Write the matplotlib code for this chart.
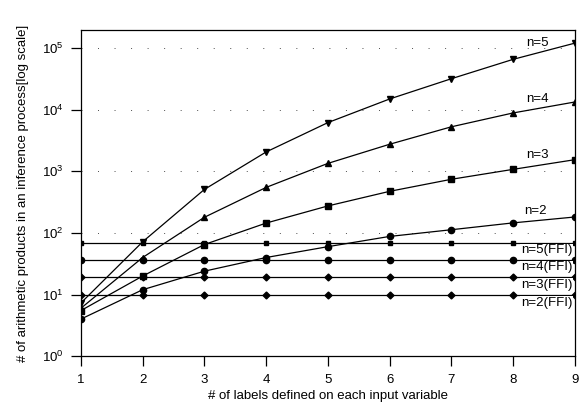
import matplotlib
matplotlib.use("Agg")
import matplotlib.pyplot as plt

plt.rcParams['font.family'] = ['Liberation Sans', 'DejaVu Sans']

labels_per_var = [1, 2, 3, 4, 5, 6, 7, 8, 9]

n5 = [7.3, 72, 510, 2070, 6200, 15000, 32000, 66000, 121000]
n4 = [6.0, 40, 180, 550, 1350, 2760, 5300, 8900, 13400]
n3 = [5.5, 20, 65, 145, 275, 475, 745, 1080, 1550]
n2 = [4.0, 12, 24, 40, 60, 88, 113, 146, 182]

n5_ffi = [70] * 9
n4_ffi = [36] * 9
n3_ffi = [19] * 9
n2_ffi = [10] * 9

fig = plt.figure(figsize=(5.82, 4.08), dpi=100)
ax = fig.add_axes([0.139, 0.127, 0.849, 0.799])

ax.set_yscale('log')
ax.set_xlim(1, 9)
ax.set_ylim(1, 1.96e5)

for yv in [1e2, 1e3, 1e4, 1e5]:
    ax.axhline(yv, color='0.3', lw=0.7, ls=(0, (1, 16)), zorder=1)

kw = dict(color='black', lw=0.9, zorder=3)
ax.plot(labels_per_var, n5, marker='v', ms=4.5, **kw)
ax.plot(labels_per_var, n4, marker='^', ms=4.5, **kw)
ax.plot(labels_per_var, n3, marker='s', ms=4, **kw)
ax.plot(labels_per_var, n2, marker='o', ms=4.5, **kw)
ax.plot(labels_per_var, n5_ffi, marker='s', ms=3.5, **kw)
ax.plot(labels_per_var, n4_ffi, marker='o', ms=4.5, **kw)
ax.plot(labels_per_var, n3_ffi, marker='D', ms=3.5, **kw)
ax.plot(labels_per_var, n2_ffi, marker='D', ms=3.5, **kw)

fs = 9.5
ax.text(0.923, 0.96, 'n=5', transform=ax.transAxes, ha='center', va='center', fontsize=fs, zorder=5)
ax.text(0.923, 0.79, 'n=4', transform=ax.transAxes, ha='center', va='center', fontsize=fs, zorder=5)
ax.text(0.923, 0.617, 'n=3', transform=ax.transAxes, ha='center', va='center', fontsize=fs, zorder=5)
ax.text(0.919, 0.445, 'n=2', transform=ax.transAxes, ha='center', va='center', fontsize=fs, zorder=5)
bb = dict(facecolor='white', edgecolor='none', pad=0.5)
for yf, t in [(0.325, 'n=5(FFI)'), (0.273, 'n=4(FFI)'), (0.218, 'n=3(FFI)'), (0.163, 'n=2(FFI)')]:
    ax.text(0.994, yf, t, transform=ax.transAxes, ha='right', va='center', fontsize=fs,
            bbox=bb, zorder=5)

ax.set_xticks(labels_per_var)
ax.set_yticks([1e0, 1e1, 1e2, 1e3, 1e4, 1e5])
ax.yaxis.set_minor_locator(matplotlib.ticker.NullLocator())
ax.tick_params(axis='both', direction='out', length=7.5, width=0.9, labelsize=fs)
ax.tick_params(axis='x', pad=5)
ax.tick_params(axis='y', pad=5)

for s in ax.spines.values():
    s.set_linewidth(0.9)

ax.set_xlabel('# of labels defined on each input variable', fontsize=fs, labelpad=3)
ax.set_ylabel('# of arithmetic products in an inference process[log scale]', fontsize=fs, labelpad=9)

fig.savefig('out.png', dpi=100)
